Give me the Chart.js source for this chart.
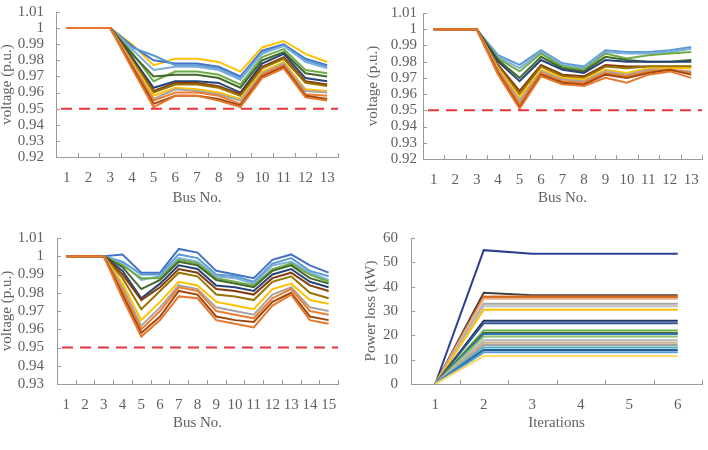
<!DOCTYPE html>
<html>
<head>
<meta charset="utf-8">
<script src="https://cdn.jsdelivr.net/npm/chart.js@4/dist/chart.umd.min.js"></script>
<style>
  body { margin: 0; background: #fff; }
  #wrap { position: relative; width: 708px; height: 450px; }
  .pane { position: absolute; width: 354px; height: 225px; }
</style>
</head>
<body>
<div id="wrap">
  <div class="pane" style="left:0;top:0"><canvas id="c1"></canvas></div>
  <div class="pane" style="left:354px;top:0"><canvas id="c2"></canvas></div>
  <div class="pane" style="left:0;top:225px"><canvas id="c3"></canvas></div>
  <div class="pane" style="left:354px;top:225px"><canvas id="c4"></canvas></div>
</div>
<script>
// ---- data ----
const bus13 = ["1", "2", "3", "4", "5", "6", "7", "8", "9", "10", "11", "12", "13"];
const bus15 = ["1", "2", "3", "4", "5", "6", "7", "8", "9", "10", "11", "12", "13", "14", "15"];
const iterations = ["1", "2", "3", "4", "5", "6"];
const voltageLimit = 0.95;

// top-left panel, 13 buses
const voltsA = [
  [1, 1, 1, 0.975, 0.951, 0.958, 0.958, 0.955, 0.951, 0.969, 0.975, 0.957, 0.955],
  [1, 1, 1, 0.976, 0.953, 0.958, 0.958, 0.956, 0.952, 0.970, 0.976, 0.958, 0.956],
  [1, 1, 1, 0.977, 0.955, 0.960, 0.960, 0.958, 0.953, 0.971, 0.977, 0.959, 0.958],
  [1, 1, 1, 0.978, 0.956, 0.962, 0.961, 0.959, 0.955, 0.972, 0.978, 0.961, 0.960],
  [1, 1, 1, 0.979, 0.958, 0.963, 0.962, 0.960, 0.956, 0.973, 0.979, 0.962, 0.961],
  [1, 1, 1, 0.980, 0.960, 0.965, 0.965, 0.963, 0.958, 0.975, 0.981, 0.966, 0.964],
  [1, 1, 1, 0.981, 0.961, 0.966, 0.966, 0.964, 0.959, 0.976, 0.982, 0.967, 0.965],
  [1, 1, 1, 0.982, 0.963, 0.967, 0.967, 0.966, 0.960, 0.978, 0.984, 0.969, 0.967],
  [1, 1, 1, 0.984, 0.970, 0.971, 0.971, 0.969, 0.963, 0.980, 0.985, 0.972, 0.970],
  [1, 1, 1, 0.985, 0.967, 0.973, 0.973, 0.971, 0.965, 0.982, 0.987, 0.974, 0.972],
  [1, 1, 1, 0.987, 0.974, 0.976, 0.976, 0.974, 0.968, 0.984, 0.989, 0.979, 0.975],
  [1, 1, 1, 0.988, 0.983, 0.977, 0.977, 0.975, 0.969, 0.985, 0.989, 0.980, 0.976],
  [1, 1, 1, 0.989, 0.980, 0.978, 0.978, 0.976, 0.970, 0.986, 0.990, 0.981, 0.977],
  [1, 1, 1, 0.990, 0.977, 0.981, 0.981, 0.979, 0.973, 0.988, 0.992, 0.984, 0.979]
];

// top-right panel, 13 buses
const voltsB = [
  [1, 1, 1, 0.972, 0.951, 0.971, 0.966, 0.965, 0.970, 0.967, 0.972, 0.974, 0.970],
  [1, 1, 1, 0.973, 0.952, 0.972, 0.967, 0.966, 0.972, 0.970, 0.973, 0.975, 0.972],
  [1, 1, 1, 0.974, 0.954, 0.973, 0.968, 0.967, 0.973, 0.971, 0.974, 0.975, 0.973],
  [1, 1, 1, 0.975, 0.956, 0.974, 0.969, 0.968, 0.974, 0.972, 0.975, 0.975, 0.974],
  [1, 1, 1, 0.976, 0.958, 0.975, 0.970, 0.969, 0.975, 0.973, 0.976, 0.976, 0.976],
  [1, 1, 1, 0.977, 0.960, 0.977, 0.971, 0.970, 0.977, 0.976, 0.977, 0.977, 0.977],
  [1, 1, 1, 0.978, 0.962, 0.978, 0.972, 0.971, 0.978, 0.977, 0.977, 0.977, 0.977],
  [1, 1, 1, 0.980, 0.968, 0.981, 0.975, 0.973, 0.981, 0.980, 0.980, 0.980, 0.980],
  [1, 1, 1, 0.981, 0.970, 0.983, 0.976, 0.974, 0.983, 0.981, 0.980, 0.980, 0.981],
  [1, 1, 1, 0.982, 0.974, 0.985, 0.977, 0.975, 0.985, 0.982, 0.984, 0.985, 0.986],
  [1, 1, 1, 0.983, 0.976, 0.986, 0.978, 0.976, 0.986, 0.985, 0.985, 0.986, 0.988],
  [1, 1, 1, 0.984, 0.978, 0.987, 0.979, 0.977, 0.987, 0.986, 0.986, 0.987, 0.989]
];

// bottom-left panel, 15 buses
const voltsC = [
  [1, 1, 1, 0.977, 0.956, 0.965, 0.978, 0.977, 0.965, 0.963, 0.961, 0.973, 0.979, 0.965, 0.963],
  [1, 1, 1, 0.979, 0.958, 0.967, 0.981, 0.979, 0.967, 0.965, 0.964, 0.975, 0.980, 0.967, 0.965],
  [1, 1, 1, 0.981, 0.960, 0.970, 0.983, 0.981, 0.970, 0.968, 0.966, 0.977, 0.982, 0.970, 0.968],
  [1, 1, 1, 0.983, 0.962, 0.972, 0.984, 0.982, 0.972, 0.970, 0.968, 0.979, 0.983, 0.972, 0.970],
  [1, 1, 1, 0.985, 0.965, 0.975, 0.986, 0.984, 0.975, 0.973, 0.971, 0.982, 0.985, 0.976, 0.974],
  [1, 1, 1, 0.988, 0.971, 0.981, 0.991, 0.989, 0.979, 0.978, 0.976, 0.986, 0.989, 0.980, 0.977],
  [1, 1, 1, 0.990, 0.976, 0.983, 0.993, 0.991, 0.982, 0.981, 0.979, 0.988, 0.991, 0.984, 0.981],
  [1, 1, 1, 0.992, 0.977, 0.985, 0.995, 0.993, 0.984, 0.983, 0.981, 0.990, 0.993, 0.986, 0.983],
  [1, 1, 1, 0.994, 0.982, 0.987, 0.997, 0.995, 0.987, 0.985, 0.983, 0.992, 0.995, 0.988, 0.985],
  [1, 1, 1, 0.995, 0.988, 0.988, 0.998, 0.996, 0.988, 0.986, 0.984, 0.993, 0.996, 0.990, 0.986],
  [1, 1, 1, 0.996, 0.987, 0.989, 0.999, 0.997, 0.989, 0.988, 0.985, 0.995, 0.997, 0.991, 0.987],
  [1, 1, 1, 0.997, 0.990, 0.990, 1.001, 0.999, 0.990, 0.989, 0.986, 0.996, 0.999, 0.992, 0.989],
  [1, 1, 1, 1.001, 0.991, 0.991, 1.004, 1.002, 0.992, 0.990, 0.988, 0.998, 1.001, 0.995, 0.991]
];

// bottom-right panel, power loss per iteration (kW)
const lossD = [
  [0, 11.5, 11.5, 11.5, 11.5, 11.5],
  [0, 13, 13, 13, 13, 13],
  [0, 14, 14, 14, 14, 14],
  [0, 15, 15, 15, 15, 15],
  [0, 16, 16, 16, 16, 16],
  [0, 17, 17, 17, 17, 17],
  [0, 18, 18, 18, 18, 18],
  [0, 19.5, 19.5, 19.5, 19.5, 19.5],
  [0, 20.5, 20.5, 20.5, 20.5, 20.5],
  [0, 21, 21, 21, 21, 21],
  [0, 22, 22, 22, 22, 22],
  [0, 25, 25, 25, 25, 25],
  [0, 26, 26, 26, 26, 26],
  [0, 30.5, 30.5, 30.5, 30.5, 30.5],
  [0, 32, 32, 32, 32, 32],
  [0, 33, 33, 33, 33, 33],
  [0, 35, 35, 35, 35, 35],
  [0, 35.5, 35.5, 35.5, 35.5, 35.5],
  [0, 36, 36, 36, 36, 36],
  [0, 37.5, 36.5, 36.5, 36.5, 36.5],
  [0, 55, 53.5, 53.5, 53.5, 53.5]
];

// ---- styles ----
const voltColors = [
  "#E8762C", "#9E480E", "#ED7D31", "#A5A5A5", "#FFC000", "#997300",
  "#843C0C", "#264478", "#43682B", "#70AD47", "#7CAFDD", "#5B9BD5",
  "#4472C4", "#FFC000"
];
const lossColors = [
  "#FFD966", "#5B9BD5", "#255E91", "#4BACC6", "#A5A5A5", "#C9B18A",
  "#B7B7B7", "#8CC168", "#2E75B6", "#43682B", "#70AD47", "#2F5597",
  "#203864", "#FFC000", "#BFBFBF", "#A5A5A5", "#F4B183", "#C55A11",
  "#ED7D31", "#404040", "#2F3F8F"
];
const fontFace = "'Liberation Serif', 'Times New Roman', serif";
const textColor = "#5f5f5f";
const axisColor = "#9a9a9a";

// small inward tick marks like the spreadsheet axes + the dashed limit line
const axisMarks = {
  id: "axisMarks",
  afterDatasetsDraw(chart, args, opts) {
    const { ctx, scales: { x, y } } = chart;
    ctx.save();
    if (opts.limit !== undefined) {
      const py = y.getPixelForValue(opts.limit);
      ctx.strokeStyle = "#e8353d";
      ctx.lineWidth = 2;
      ctx.setLineDash([11, 7]);
      ctx.beginPath();
      ctx.moveTo(x.left + 5, py);
      ctx.lineTo(x.right, py);
      ctx.stroke();
      ctx.setLineDash([]);
    }
    ctx.strokeStyle = axisColor;
    ctx.lineWidth = 1;
    ctx.beginPath();
    y.ticks.forEach((t, i) => {
      const py = Math.round(y.getPixelForTick(i)) + 0.5;
      ctx.moveTo(y.right, py);
      ctx.lineTo(y.right + 4, py);
    });
    const n = x.ticks.length;
    for (let i = 0; i <= n; i++) {
      let px;
      if (i === 0) px = x.left;
      else if (i === n) px = x.right;
      else px = (x.getPixelForTick(i - 1) + x.getPixelForTick(i)) / 2;
      px = Math.round(px) + 0.5;
      ctx.moveTo(px, x.top);
      ctx.lineTo(px, x.top - 4);
    }
    ctx.stroke();
    ctx.restore();
  }
};

// invisible grid ticks are used only as label spacing
const hiddenGrid = (len) => ({
  display: true,
  drawOnChartArea: false,
  drawTicks: true,
  tickLength: len,
  color: "rgba(0,0,0,0)"
});

function makeChart(id, cfg) {
  const datasets = cfg.series.map((vals, i) => ({
    data: vals,
    borderColor: cfg.colors[i % cfg.colors.length],
    borderWidth: 2,
    pointRadius: 0,
    tension: 0,
    fill: false
  }));
  return new Chart(document.getElementById(id), {
    type: "line",
    data: { labels: cfg.labels, datasets: datasets },
    options: {
      responsive: false,
      animation: false,
      layout: { padding: { left: 0, right: cfg.padRight, top: cfg.padTop, bottom: 0 } },
      plugins: {
        legend: { display: false },
        tooltip: { enabled: false },
        axisMarks: { limit: cfg.limit }
      },
      scales: {
        x: {
          type: "category",
          offset: true,
          grid: hiddenGrid(12),
          border: { display: true, color: axisColor, width: 1 },
          ticks: {
            color: textColor,
            font: { family: fontFace, size: 15 },
            padding: 0,
            maxRotation: 0,
            autoSkip: false
          },
          title: {
            display: true,
            text: cfg.xTitle,
            color: textColor,
            font: { family: fontFace, size: 15, lineHeight: 1 },
            padding: { top: 0, bottom: 19 }
          },
          afterFit: (s) => { s.height = cfg.xHeight; }
        },
        y: {
          min: cfg.yMin,
          max: cfg.yMax,
          grid: hiddenGrid(cfg.yPad),
          border: { display: true, color: axisColor, width: 1 },
          ticks: {
            stepSize: cfg.yStep,
            autoSkip: false,
            color: textColor,
            font: { family: fontFace, size: 15 },
            padding: 0,
            callback: (v) => String(+v.toFixed(2))
          },
          title: {
            display: true,
            text: cfg.yTitle,
            color: textColor,
            font: { family: fontFace, size: 15, lineHeight: 1 },
            padding: { top: cfg.yTitlePad, bottom: 0 }
          },
          afterFit: (s) => { s.width = cfg.yWidth; }
        }
      }
    },
    plugins: [axisMarks]
  });
}

["c1", "c2", "c3", "c4"].forEach((id) => {
  const c = document.getElementById(id);
  c.width = 354;
  c.height = 225;
});

makeChart("c1", {
  labels: bus13, series: voltsA, colors: voltColors, limit: voltageLimit,
  yMin: 0.92, yMax: 1.01, yStep: 0.01, yTitle: "voltage (p.u.)", xTitle: "Bus No.",
  yWidth: 56, yPad: 12, yTitlePad: 0, padRight: 16, padTop: 12, xHeight: 68
});
makeChart("c2", {
  labels: bus13, series: voltsB, colors: voltColors, limit: voltageLimit,
  yMin: 0.92, yMax: 1.01, yStep: 0.01, yTitle: "voltage (p.u.)", xTitle: "Bus No.",
  yWidth: 69, yPad: 6, yTitlePad: 12, padRight: 6, padTop: 13, xHeight: 66
});
makeChart("c3", {
  labels: bus15, series: voltsC, colors: voltColors, limit: voltageLimit,
  yMin: 0.93, yMax: 1.01, yStep: 0.01, yTitle: "voltage (p.u.)", xTitle: "Bus No.",
  yWidth: 57, yPad: 13, yTitlePad: 0, padRight: 16, padTop: 13, xHeight: 66
});
makeChart("c4", {
  labels: iterations, series: lossD, colors: lossColors,
  yMin: 0, yMax: 60, yStep: 10, yTitle: "Power loss (kW)", xTitle: "Iterations",
  yWidth: 57, yPad: 13, yTitlePad: 10, padRight: 6, padTop: 13, xHeight: 66
});
</script>
</body>
</html>
